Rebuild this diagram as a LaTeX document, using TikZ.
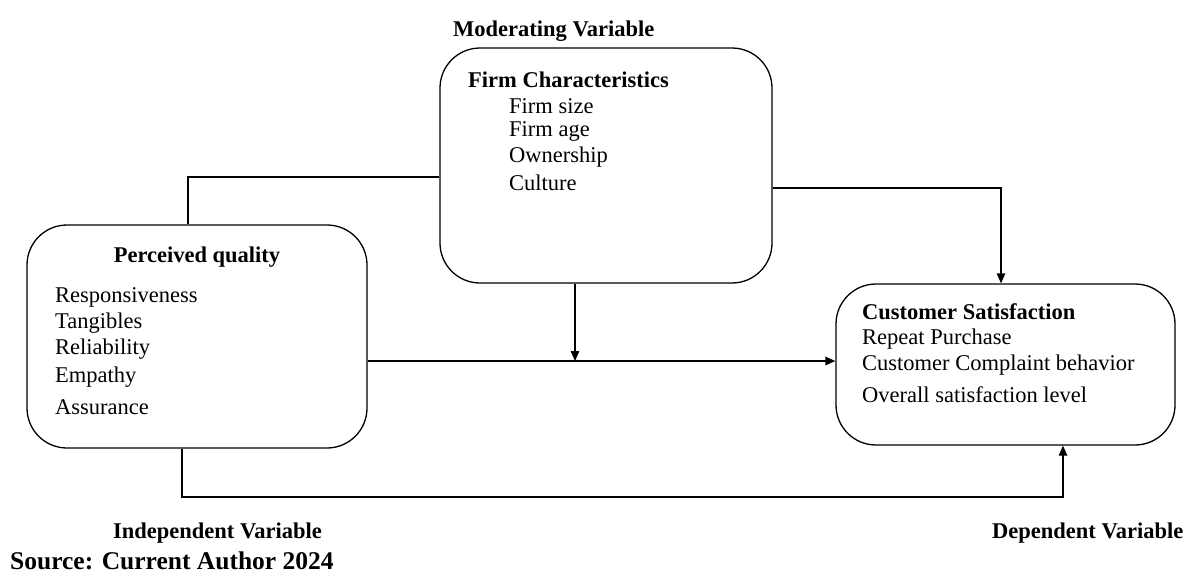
\documentclass[tikz,border=0pt]{standalone}
\usepackage{fontspec}
\setmainfont{Liberation Serif}
\usetikzlibrary{arrows.meta}
\begin{document}
\begin{tikzpicture}[x=1pt,y=-1pt,
  box/.style={draw, line width=1.3pt, rounded corners=40pt, inner sep=0pt},
  txt/.style={anchor=west, inner sep=0pt, font=\fontsize{22.5}{26}\selectfont},
  btxt/.style={anchor=west, inner sep=0pt, font=\fontsize{22.5}{26}\selectfont\bfseries},
  conn/.style={line width=1.3pt},
  arr/.style={line width=1.3pt, -{Triangle[length=10pt,width=8.5pt]}}]
\useasboundingbox (0,0) rectangle (1193,574);
% boxes
\node[box, minimum width=332pt, minimum height=235pt] (firm) at (606,165.5) {};
\node[box, minimum width=340pt, minimum height=223pt] (perc) at (197,336.5) {};
\node[box, minimum width=339pt, minimum height=161pt] (cust) at (1005.5,364.5) {};
% texts
\node[btxt] (modlab) at (453,31) {Moderating Variable};
\node[btxt] (firmt) at (468,80) {Firm Characteristics};
\node[txt] (f1) at (509,106) {Firm size};
\node[txt] (f2) at (509,131) {Firm age};
\node[txt] (f3) at (509,157) {Ownership};
\node[txt] (f4) at (509,183) {Culture};
\node[btxt, anchor=center] (perct) at (197,257) {Perceived quality};
\node[txt] (p1) at (55,297) {Responsiveness};
\node[txt] (p2) at (55,323) {Tangibles};
\node[txt] (p3) at (55,349) {Reliability};
\node[txt] (p4) at (55,377) {Empathy};
\node[txt] (p5) at (55,407) {Assurance};
\node[btxt] (custt) at (862,312) {Customer Satisfaction};
\node[txt] (c1) at (862,339) {Repeat Purchase};
\node[txt] (c2) at (862,365) {Customer Complaint behavior};
\node[txt] (c3) at (862,395) {Overall satisfaction level};
\node[btxt] (indlab) at (113,533) {Independent Variable};
\node[btxt] (deplab) at (992,533) {Dependent Variable};
\node[anchor=west, inner sep=0pt, font=\fontsize{25.5}{30}\selectfont\bfseries] (src) at (10,561) {Source: Current Author 2024};
% connectors
\coordinate (lx) at (188,177);
\draw[conn] (firm.west |- lx) -| (perc.north -| lx);
\coordinate (rx) at (1001,188);
\draw[arr] (firm.east |- rx) -| (cust.north -| rx);
\coordinate (my) at (575,361);
\draw[arr] (perc.east |- my) -- (cust.west |- my);
\draw[arr] (firm.south -| my) -- (my);
\coordinate (bl) at (182,497);
\coordinate (br) at (1063,497);
\draw[arr] (perc.south -| bl) -- (bl) -- (br) -- (cust.south -| br);
\end{tikzpicture}
\end{document}
